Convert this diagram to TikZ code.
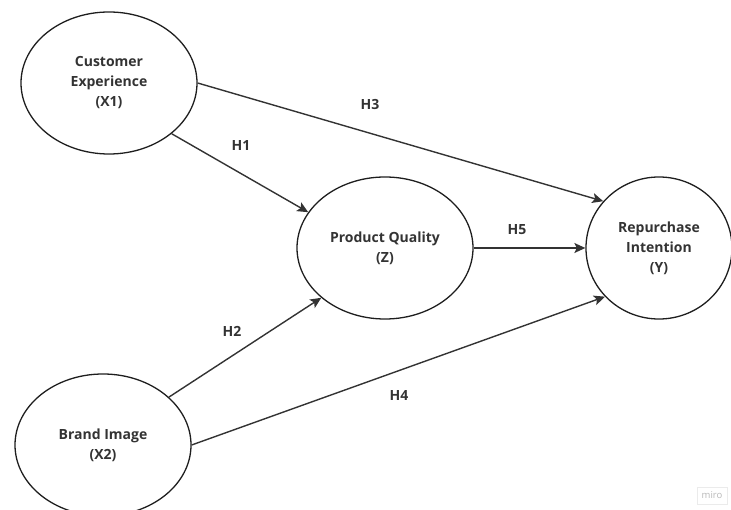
\documentclass[tikz,border=0pt]{standalone}
\usepackage{fontspec}
\setmainfont{Open Sans}
\usetikzlibrary{arrows.meta, shapes.geometric}
\definecolor{ink}{HTML}{333333}
\definecolor{edge}{HTML}{1E1E1E}

\begin{document}
\begin{tikzpicture}[x=1pt, y=-1pt,
  latent/.style={draw=edge, line width=1.3pt, ellipse, inner sep=0pt,
    minimum width=176pt, minimum height=142pt, align=center,
    text=ink, font=\fontsize{14}{20}\selectfont\bfseries},
  hyp/.style={text=ink, font=\fontsize{14}{17}\selectfont\bfseries},
  link/.style={draw=ink, line width=1.4pt, -{Stealth[length=11pt, width=10pt, inset=2.5pt]}}]
\useasboundingbox (0,0) rectangle (731,510);
\clip (0,0) rectangle (731,510);

% constructs
\node[latent] (ce) at (109,83) {\rule{0pt}{4pt}Customer\\Experience\\(X1)};
\node[latent] (pq) at (385,248) {\rule{0pt}{4pt}Product Quality\\(Z)};
\node[latent, minimum width=146pt] (ri) at (659,248) {\rule{0pt}{4pt}Repurchase\\Intention\\(Y)};
\node[latent] (bi) at (103,445) {\rule{0pt}{4pt}Brand Image\\(X2)};

% hypotheses
\draw[link] (ce.-39) -- (pq.155.6);
\draw[link] (ce.east) -- (ri.140);
\draw[link] (pq.east) -- (ri.west);
\draw[link] (bi.36.7) -- (pq.-142);
\draw[link] (bi.east) -- (ri.222);

\node[hyp] (h1) at (241,146) {H1};
\node[hyp] (h2) at (232,331) {H2};
\node[hyp] (h3) at (370,105) {H3};
\node[hyp] (h4) at (399,396) {H4};
\node[hyp] (h5) at (517,230) {H5};

\node[draw=black!8, text=black!28, font=\fontsize{9.5}{10}\selectfont,
  minimum width=30pt, minimum height=17pt, inner sep=0pt] (miro) at (712,495.5) {miro};
\end{tikzpicture}
\end{document}
